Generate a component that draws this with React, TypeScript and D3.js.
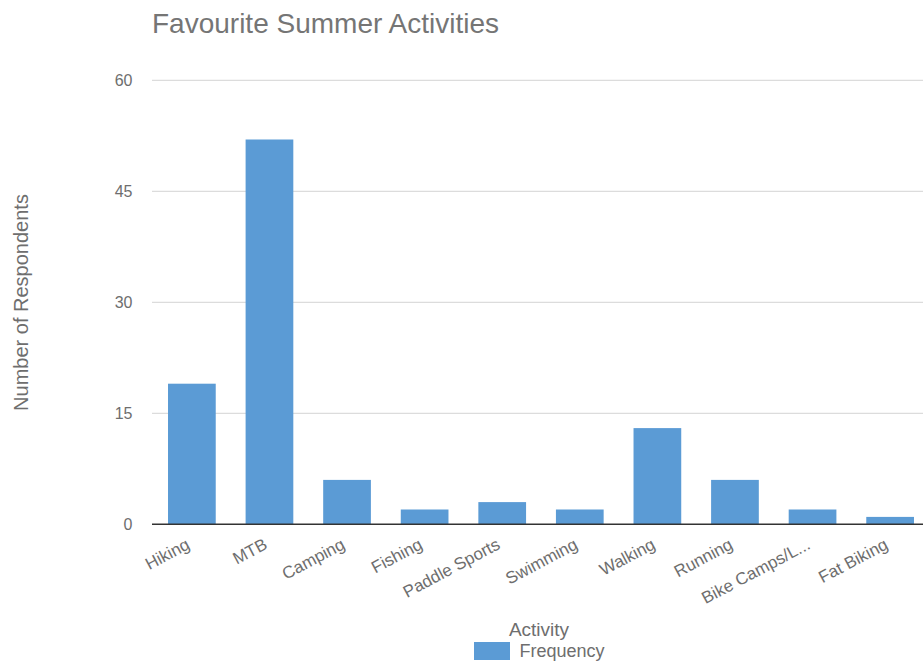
import React from "react";
import * as d3 from "d3";

const categories = ["Hiking", "MTB", "Camping", "Fishing", "Paddle Sports", "Swimming", "Walking", "Running", "Bike Camps/L...", "Fat Biking"];
const frequency = [19, 52, 6, 2, 3, 2, 13, 6, 2, 1];
const yTicks = [0, 15, 30, 45, 60];

const W = 923;
const H = 667;
const FONT = "'Liberation Sans', Arial, sans-serif";
const BAR = "#5b9bd5";
const TXT = "#6e6e6e";

export default function App() {
  const x = d3.scaleBand<string>().domain(categories).range([152.5, 929.5]).paddingInner(0.385).paddingOuter(0.2);
  const y = d3.scaleLinear().domain([0, 60]).range([524.3, 80.3]);

  return (
    <div style={{ position: "absolute", left: 0, top: 0 }}>
      <svg width={W} height={H} style={{ display: "block", fontFamily: FONT }}>
        <rect width={W} height={H} fill="#fff" />
        <text x={152} y={33} fontSize={28} fill="#757575">Favourite Summer Activities</text>
        {yTicks.map((t) => (
          <g key={t}>
            {t !== 0 && <line x1={152} x2={W} y1={y(t)} y2={y(t)} stroke="#dcdcdc" strokeWidth={1.2} />}
            <text x={132.5} y={y(t) + 6} fontSize={16} fill={TXT} textAnchor="end">{t}</text>
          </g>
        ))}
        {categories.map((c, i) => (
          <rect key={c} x={x(c)} y={y(frequency[i])} width={x.bandwidth()} height={y(0) - y(frequency[i])} fill={BAR} />
        ))}
        <line x1={152} x2={W} y1={y(0)} y2={y(0)} stroke="#333" strokeWidth={1.5} />
        {categories.map((c) => {
          const cx = (x(c) as number) + x.bandwidth() / 2 - 1;
          const cy = 548;
          return (
            <text key={c} x={cx} y={cy} fontSize={17} fill={TXT} textAnchor="end" transform={`rotate(-28 ${cx} ${cy})`}>{c}</text>
          );
        })}
        <text x={0} y={0} fontSize={20} fill={TXT} textAnchor="middle" transform={`translate(27.5 302.5) rotate(-90)`}>Number of Respondents</text>
        <text x={539} y={636} fontSize={19} fill={TXT} textAnchor="middle">Activity</text>
        <rect x={474} y={642} width={36} height={18} fill={BAR} />
        <text x={519.5} y={657} fontSize={18} fill={TXT}>Frequency</text>
      </svg>
    </div>
  );
}
